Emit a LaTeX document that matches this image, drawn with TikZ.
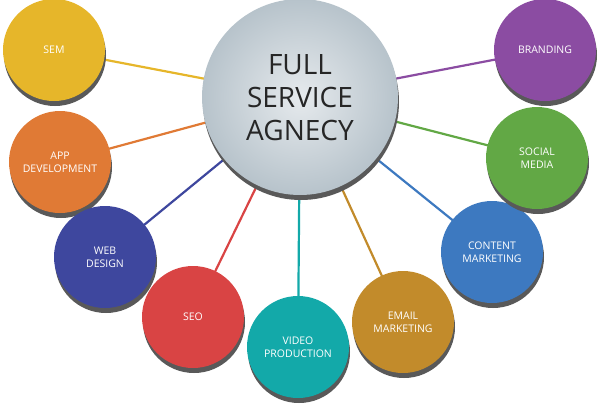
\documentclass[tikz,border=0pt]{standalone}
\usepackage{fontspec}
\setmainfont{Open Sans}
\definecolor{cin}{HTML}{E6EAED}
\definecolor{cout}{HTML}{B7C3CB}
\begin{document}
\begin{tikzpicture}[x=1pt,y=-1pt,
  sat/.style={circle,minimum size=102pt,inner sep=0pt,text=white,font=\fontsize{10.5}{13}\selectfont,align=center},
  link/.style={line width=2.2pt}]
\useasboundingbox (0,0) rectangle (600,405);
\def\sats{sem/54/50/E6B62A/SEM,app/60/162/E07A35/APP\\DEVELOPMENT,web/105/257/3E479E/WEB\\DESIGN,seo/193/317/D94444/SEO,vid/298/347/13A9A9/VIDEO\\PRODUCTION,eml/403/322/C28B2B/EMAIL\\MARKETING,cnt/492/252/3D79C0/CONTENT\\MARKETING,soc/537/158/62A845/SOCIAL\\MEDIA,brd/545/50/8B4CA2/BRANDING}
\node[circle,minimum size=196pt,inner sep=0pt] (c) at (300,97) {};
\foreach \n/\x/\y/\col/\t in \sats {
  \definecolor{tmp}{HTML}{\col}
  \draw[link,tmp] (c.center) -- (\x,\y);
}
\foreach \n/\x/\y/\col/\t in \sats {
  \definecolor{tmp}{HTML}{\col}
  \fill[gray!70!black] (\x+1,\y+5) circle (51);
  \node[sat,fill=tmp] (\n) at (\x,\y) {\t};
}
\fill[gray!70!black] (301,102) circle (98);
\shade[inner color=cin,outer color=cout] (300,97) circle (98);
\node[align=center,font=\fontsize{28}{33}\selectfont,text=black!85] (ct) at (300,98) {FULL\\SERVICE\\AGNECY};
\end{tikzpicture}
\end{document}
